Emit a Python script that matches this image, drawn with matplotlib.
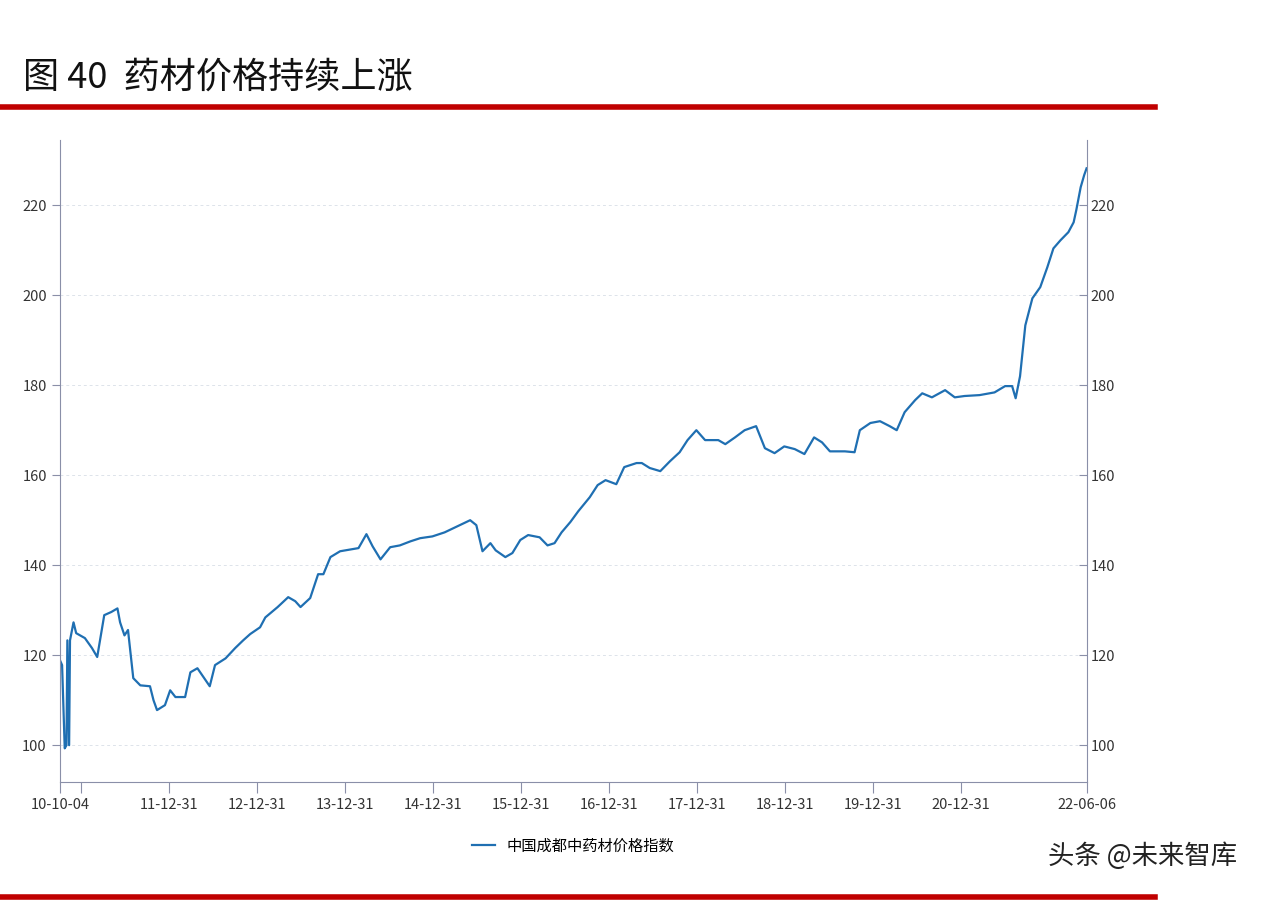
import matplotlib
matplotlib.use("Agg")
import matplotlib.pyplot as plt
import pandas as pd

plt.rcParams['font.family'] = ['Noto Sans CJK SC', 'DejaVu Sans']

years = [2010.76,2010.78,2010.81,2010.83,2010.84,2010.86,2010.87,2010.91,2010.94,2011.04,2011.12,2011.18,2011.26,2011.34,2011.41,2011.44,2011.49,2011.53,2011.59,2011.67,2011.78,2011.82,2011.86,2011.95,2012.01,2012.07,2012.18,2012.24,2012.32,2012.46,2012.52,2012.64,2012.75,2012.84,2012.92,2013.03,2013.09,2013.23,2013.35,2013.43,2013.49,2013.60,2013.69,2013.75,2013.83,2013.94,2014.15,2014.24,2014.31,2014.40,2014.51,2014.62,2014.74,2014.85,2014.99,2015.13,2015.28,2015.42,2015.49,2015.56,2015.65,2015.71,2015.82,2015.90,2015.99,2016.08,2016.21,2016.30,2016.38,2016.46,2016.56,2016.65,2016.78,2016.87,2016.96,2017.08,2017.17,2017.31,2017.37,2017.46,2017.58,2017.69,2017.80,2017.89,2017.99,2018.09,2018.24,2018.32,2018.43,2018.54,2018.67,2018.77,2018.88,2018.99,2019.11,2019.22,2019.33,2019.42,2019.51,2019.68,2019.79,2019.85,2019.97,2020.08,2020.19,2020.27,2020.36,2020.48,2020.56,2020.67,2020.82,2020.93,2021.04,2021.21,2021.38,2021.50,2021.58,2021.62,2021.67,2021.73,2021.81,2021.90,2021.98,2022.05,2022.13,2022.22,2022.28,2022.31,2022.36,2022.40,2022.43]
values = [118.9,117.8,99.3,100,123.3,100,123.3,127.3,124.9,123.8,121.6,119.6,128.9,129.6,130.4,127.3,124.4,125.6,114.9,113.3,113.1,110,107.8,108.9,112.2,110.7,110.7,116.2,117.1,113.1,117.8,119.3,121.6,123.3,124.7,126.2,128.4,130.7,132.9,132,130.7,132.7,138,138,141.8,143.1,143.8,146.9,144.2,141.3,144,144.4,145.3,146,146.4,147.3,148.7,150,148.9,143.1,144.9,143.3,141.8,142.7,145.6,146.7,146.2,144.4,144.9,147.3,149.6,152,155.1,157.8,158.9,158,161.8,162.7,162.7,161.6,160.9,163.1,165.1,167.8,170,167.8,167.8,166.9,168.4,170,170.9,166,164.9,166.4,165.8,164.7,168.4,167.3,165.3,165.3,165.1,170,171.6,172,170.9,170,174,176.7,178.2,177.3,178.9,177.3,177.6,177.8,178.4,179.8,179.8,177.1,182,193.3,199.3,201.8,206.2,210.4,212.2,214,216.2,218.9,224,226.7,228.2]
tick_dates = ["2010-10-04","2010-12-31","2011-12-31","2012-12-31","2013-12-31","2014-12-31","2015-12-31","2016-12-31","2017-12-31","2018-12-31","2019-12-31","2020-12-31","2022-06-06"]
tick_labels = ["10-10-04","","11-12-31","12-12-31","13-12-31","14-12-31","15-12-31","16-12-31","17-12-31","18-12-31","19-12-31","20-12-31","22-06-06"]
yticks = [100,120,140,160,180,200,220]
series_name = "中国成都中药材价格指数"

def yr2date(y):
    base = pd.Timestamp(int(y), 1, 1)
    return base + pd.Timedelta(days=(y - int(y)) * 365.25)
dates = [yr2date(y) for y in years]
dates[0] = pd.Timestamp("2010-10-04"); dates[-1] = pd.Timestamp("2022-06-06")

fig = plt.figure(figsize=(12.62, 9), dpi=100)
fig.patch.set_facecolor('white')
fig.text(0.018, 0.903, "图 40  药材价格持续上涨", fontsize=26, color='#111111')
fig.add_artist(plt.Line2D([0, 0.915], [0.881, 0.881], color='#c00000', lw=4))
fig.add_artist(plt.Line2D([0, 0.915], [0.003, 0.003], color='#c00000', lw=4))

ax = fig.add_axes([0.0475, 0.131, 0.8135, 0.713])
ax.plot(dates, values, color='#1f6fb2', lw=1.6, label=series_name)
ax.set_ylim(91.8, 234.4)
ax.set_xlim(pd.Timestamp("2010-10-04"), pd.Timestamp("2022-06-06"))
ax.set_yticks(yticks)
for t in yticks:
    ax.axhline(t, color='#dde3ea', lw=0.7, ls=(0, (3, 3)), zorder=0)
ax.set_xticks([pd.Timestamp(d) for d in tick_dates])
ax.set_xticklabels(tick_labels, fontsize=10.5, color='#333333')
ax.tick_params(axis='y', labelsize=10.5, colors='#333333', length=6, color='#8a8fa8')
ax.tick_params(axis='x', length=8, color='#8a8fa8')
for s in ['top', 'right']:
    ax.spines[s].set_visible(False)
for s in ['left', 'bottom']:
    ax.spines[s].set_color('#8a8fa8')
ax2 = ax.twinx()
ax2.set_ylim(ax.get_ylim())
ax2.set_yticks(yticks)
ax2.tick_params(axis='y', labelsize=10.5, colors='#333333', length=6, color='#8a8fa8', direction='in', pad=3)
for s in ['top', 'left', 'bottom']:
    ax2.spines[s].set_visible(False)
ax2.spines['right'].set_color('#8a8fa8')
ax.legend(loc='upper center', bbox_to_anchor=(0.50, -0.065), frameon=False, fontsize=11, handlelength=1.5)
fig.text(0.98, 0.04, "头条 @未来智库", fontsize=19, color='#222222', ha='right')
fig.savefig("out.png", dpi=100)
